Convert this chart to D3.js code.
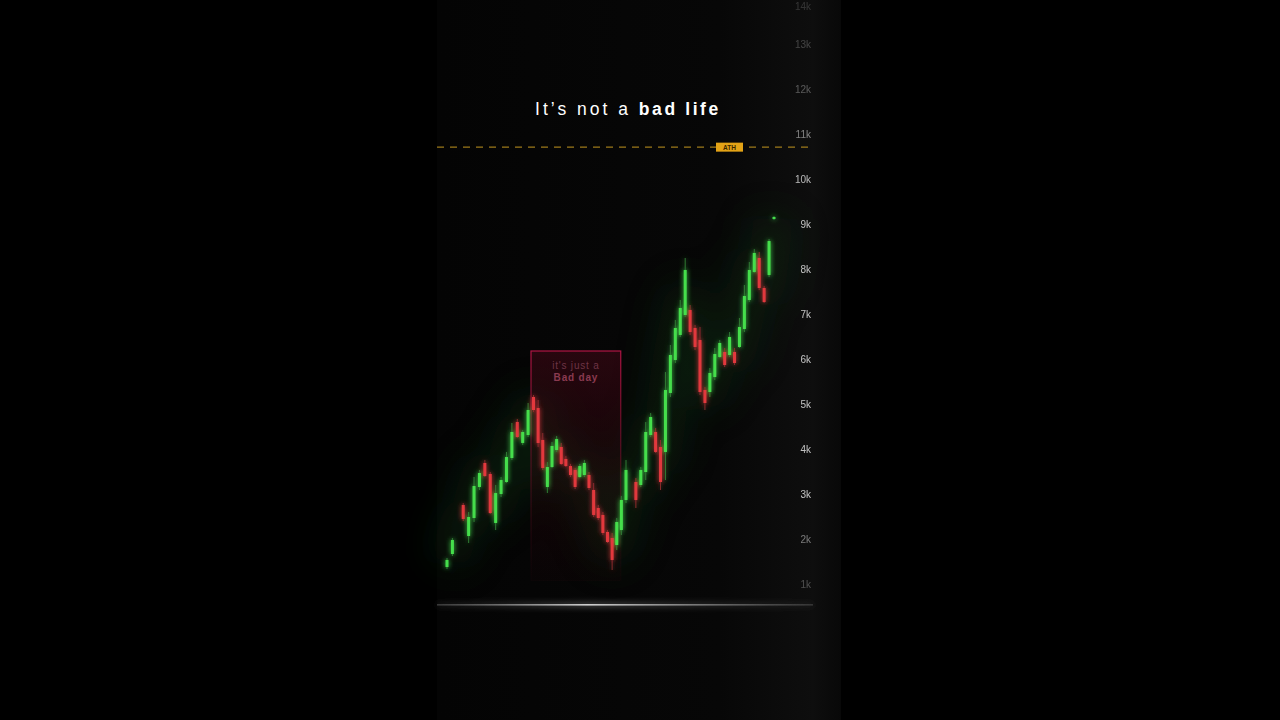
<!DOCTYPE html>
<html><head><meta charset="utf-8">
<script src="https://cdn.jsdelivr.net/npm/d3@7"></script>
<style>html,body{margin:0;padding:0;background:#000;overflow:hidden;}svg{display:block;}</style>
</head><body>
<script>
// ---- data ----
// candles: [open, high, low, close]; null = no candle in that slot
const candles = [
 [1400,1600,1356,1556],[1689,2044,1644,2000],null,[2778,2822,2422,2467],
 [2089,2622,1933,2511],[2489,3400,2400,3200],[3178,3556,3111,3489],[3711,3778,3400,3422],
 [3467,3511,2578,2600],[2378,3222,2222,3044],[3022,3400,2956,3333],[3289,3956,3267,3844],
 [3822,4600,3778,4400],[4622,4689,4267,4289],[4156,4444,4111,4400],[4333,5044,4289,4889],
 [5178,5222,4844,4889],[4933,5111,4067,4156],[4222,4378,3556,3600],[3178,3733,3044,3622],
 [3622,4178,3600,4089],[4000,4311,3956,4244],[4067,4156,3667,3689],[3800,3867,3622,3644],
 [3644,3689,3400,3444],[3556,3600,3133,3178],[3400,3689,3378,3644],[3444,3778,3400,3711],
 [3444,3511,3111,3156],[3111,3267,2511,2556],[2711,2778,2444,2489],[2556,2622,2111,2156],
 [2178,2222,1933,1956],[2044,2156,1333,1556],[1889,2489,1778,2400],[2222,2978,2111,2889],
 [2889,3778,2822,3556],null,[3289,3378,2711,2889],[3222,3622,3178,3556],
 [3511,4622,3333,4400],[4333,4822,4289,4733],[4400,4489,3933,3956],[4067,4222,3111,3289],
 [3956,5733,3333,5333],[5267,6333,5178,6111],[6000,6889,5933,6711],[6556,7333,6511,7156],
 [7000,8267,6956,8000],[7111,7222,6556,6622],[6711,6778,6222,6289],[6444,6733,5222,5289],
 [5333,5400,4889,5044],[5289,5822,5178,5711],[5622,6267,5556,6133],[6067,6444,6044,6378],
 [6178,6267,5844,5889],[6111,6622,6067,6511],[6178,6267,5889,5933],[6289,6933,6267,6733],
 [6689,7667,6622,7422],[7333,8178,7289,8000],[7956,8467,7933,8378],[8267,8400,7556,7600],
 [7600,7644,7267,7289],[7889,8689,7844,8644],[9133,9200,9111,9178]
];
const yTicks = [1000,2000,3000,4000,5000,6000,7000,8000,9000,10000,11000,12000,13000,14000];
const yTickLabels = ["1k","2k","3k","4k","5k","6k","7k","8k","9k","10k","11k","12k","13k","14k"];
const tickOpacity = [0.3,0.5,0.85,0.85,0.85,0.85,0.85,0.85,0.85,0.8,0.55,0.35,0.25,0.18];
const athValue = 10730;
const athLabel = "ATH";
const titleNormal = "It’s not a ";
const titleBold = "bad life";
const boxLines = ["it's just a", "Bad day"];
const boxRange = [16, 34]; // candle slots covered by the "bad day" box
const boxTop = 6200;

// ---- drawing ----
const W = 1280, H = 720;
const svg = d3.select("body").append("svg").attr("width", W).attr("height", H);
const defs = svg.append("defs");

const glow = defs.append("filter").attr("id","glow").attr("x","-200%").attr("y","-50%").attr("width","500%").attr("height","200%");
glow.append("feGaussianBlur").attr("in","SourceGraphic").attr("stdDeviation",2.4).attr("result","b");
const gm = glow.append("feMerge");
gm.append("feMergeNode").attr("in","b");
gm.append("feMergeNode").attr("in","SourceGraphic");

const soft = defs.append("filter").attr("id","soft").attr("x","-50%").attr("y","-50%").attr("width","200%").attr("height","200%");
soft.append("feGaussianBlur").attr("stdDeviation",18);

const lineGlow = defs.append("filter").attr("id","lineGlow").attr("x","-50%").attr("y","-500%").attr("width","200%").attr("height","1100%");
lineGlow.append("feGaussianBlur").attr("in","SourceGraphic").attr("stdDeviation",3).attr("result","b");
const lm = lineGlow.append("feMerge");
lm.append("feMergeNode").attr("in","b");
lm.append("feMergeNode").attr("in","SourceGraphic");

// panel gradient
const pg = defs.append("linearGradient").attr("id","panelG").attr("x1",0).attr("x2",1).attr("y1",0).attr("y2",0);
pg.append("stop").attr("offset","0%").attr("stop-color","#040404");
pg.append("stop").attr("offset","70%").attr("stop-color","#070707");
pg.append("stop").attr("offset","93%").attr("stop-color","#0e0e0e");
pg.append("stop").attr("offset","100%").attr("stop-color","#080808");

const hg = defs.append("linearGradient").attr("id","hlineG").attr("x1",0).attr("x2",1).attr("y1",0).attr("y2",0);
hg.append("stop").attr("offset","0%").attr("stop-color","#555").attr("stop-opacity",0.6);
hg.append("stop").attr("offset","40%").attr("stop-color","#cfcfcf").attr("stop-opacity",1);
hg.append("stop").attr("offset","100%").attr("stop-color","#555").attr("stop-opacity",0.5);

const vg = defs.append("linearGradient").attr("id","vlineG").attr("x1",0).attr("x2",0).attr("y1",0).attr("y2",1);
vg.append("stop").attr("offset","0%").attr("stop-color","#666");
vg.append("stop").attr("offset","40%").attr("stop-color","#bbb");
vg.append("stop").attr("offset","100%").attr("stop-color","#666");

const boxG = defs.append("linearGradient").attr("id","boxG").attr("x1",0).attr("x2",0).attr("y1",0).attr("y2",1);
boxG.append("stop").attr("offset","0%").attr("stop-color","#4a0818").attr("stop-opacity",0.5);
boxG.append("stop").attr("offset","100%").attr("stop-color","#2a0008").attr("stop-opacity",0.1);
const boxS = defs.append("linearGradient").attr("id","boxS").attr("x1",0).attr("x2",0).attr("y1",0).attr("y2",1);
boxS.append("stop").attr("offset","0%").attr("stop-color","#c0164a").attr("stop-opacity",0.9);
boxS.append("stop").attr("offset","100%").attr("stop-color","#5a0a1e").attr("stop-opacity",0.05);

svg.append("rect").attr("width",W).attr("height",H).attr("fill","#000");
svg.append("rect").attr("x",437).attr("y",0).attr("width",404).attr("height",H).attr("fill","url(#panelG)");

const y = d3.scaleLinear().domain([1000,14000]).range([585,0]);
// piecewise time scale: candle spacing is slightly wider early in the series
const x = d3.scaleLinear().domain([0,16,36,candles.length-1]).range([447,533.5,626,774]);

// ambient glow
const amb = svg.append("g").attr("filter","url(#soft)").attr("opacity",0.35);
amb.append("path")
  .datum(candles.map((d,i)=>d?[i,(d[0]+d[3])/2]:null).filter(d=>d))
  .attr("d", d3.line().x(d=>x(d[0])).y(d=>y(d[1])).curve(d3.curveBasis))
  .attr("fill","none").attr("stroke","#0d3a12").attr("stroke-width",40);

// bad day box
const bx0 = x(boxRange[0]) - 2.5, bx1 = x(boxRange[1]) + 4;
svg.append("rect").attr("x",bx0).attr("y",y(boxTop)).attr("width",bx1-bx0).attr("height",y(1100)-y(boxTop))
  .attr("fill","url(#boxG)").attr("stroke","url(#boxS)").attr("stroke-width",1.2);
svg.append("g").selectAll("text").data(boxLines).join("text")
  .attr("x",(bx0+bx1)/2).attr("y",(d,i)=>y(boxTop)+18+i*12)
  .attr("text-anchor","middle").attr("font-family","Liberation Sans, Arial, sans-serif")
  .attr("font-size",10).attr("letter-spacing",0.8).attr("font-weight",(d,i)=>i?"bold":"normal")
  .attr("fill",(d,i)=>i?"#8a3a50":"#6e3445").text(d=>d);

// ATH line
svg.append("line").attr("x1",437).attr("x2",813).attr("y1",y(athValue)).attr("y2",y(athValue))
  .attr("stroke","#d0a020").attr("stroke-width",1.2).attr("stroke-dasharray","7,6").attr("opacity",0.75);
svg.append("rect").attr("x",716).attr("y",y(athValue)-4.5).attr("width",27).attr("height",9).attr("fill","#e3a316");
svg.append("text").attr("x",729.5).attr("y",y(athValue)+2.5).attr("text-anchor","middle")
  .attr("font-family","Liberation Sans, Arial, sans-serif").attr("font-size",6.5).attr("font-weight","bold")
  .attr("fill","#3a2600").text(athLabel);

// candles
const cg = svg.append("g").attr("filter","url(#glow)");
const data = candles.map((d,i)=>d?{i,o:d[0],h:d[1],l:d[2],c:d[3]}:null).filter(d=>d);
const col = d => d.c >= d.o ? "#45de4c" : "#e2393d";
const wcol = d => d.c >= d.o ? "#2f7a33" : "#8a2a2c";
cg.selectAll("line.w").data(data).join("line").attr("class","w")
  .attr("x1",d=>x(d.i)).attr("x2",d=>x(d.i)).attr("y1",d=>y(d.h)).attr("y2",d=>y(d.l))
  .attr("stroke",wcol).attr("stroke-width",1);
cg.selectAll("rect.b").data(data).join("rect").attr("class","b")
  .attr("x",d=>x(d.i)-1.5).attr("width",3)
  .attr("y",d=>y(Math.max(d.o,d.c))).attr("height",d=>Math.max(1.5,Math.abs(y(d.o)-y(d.c))))
  .attr("fill",col);

// axes lines
svg.append("line").attr("x1",815).attr("x2",815).attr("y1",0).attr("y2",605)
  .attr("stroke","url(#vlineG)").attr("stroke-width",1.3).attr("filter","url(#lineGlow)");
svg.append("rect").attr("x",437).attr("y",604).attr("width",376).attr("height",1.6)
  .attr("fill","url(#hlineG)").attr("filter","url(#lineGlow)");

// y axis labels
const axis = d3.axisLeft(y).tickValues(yTicks).tickSize(0).tickPadding(4)
  .tickFormat((d,i)=>yTickLabels[i]);
const ag = svg.append("g").attr("transform","translate(815,0)").call(axis);
ag.select(".domain").remove();
// keep the topmost label inside the view
ag.selectAll(".tick").attr("transform", d => `translate(0,${Math.max(7, y(d))})`);
ag.selectAll("text").attr("fill","#e0e0e0").attr("font-size",10)
  .attr("font-family","Liberation Sans, Arial, sans-serif")
  .attr("opacity",(d,i)=>tickOpacity[i]);

// title
const t = svg.append("text").attr("x",628).attr("y",115).attr("text-anchor","middle")
  .attr("font-family","Liberation Sans, Arial, sans-serif").attr("font-size",17.5)
  .attr("letter-spacing",3).attr("fill","#fff");
t.append("tspan").text(titleNormal);
t.append("tspan").attr("font-weight","bold").attr("letter-spacing",2.6).text(titleBold);
</script>
</body></html>
